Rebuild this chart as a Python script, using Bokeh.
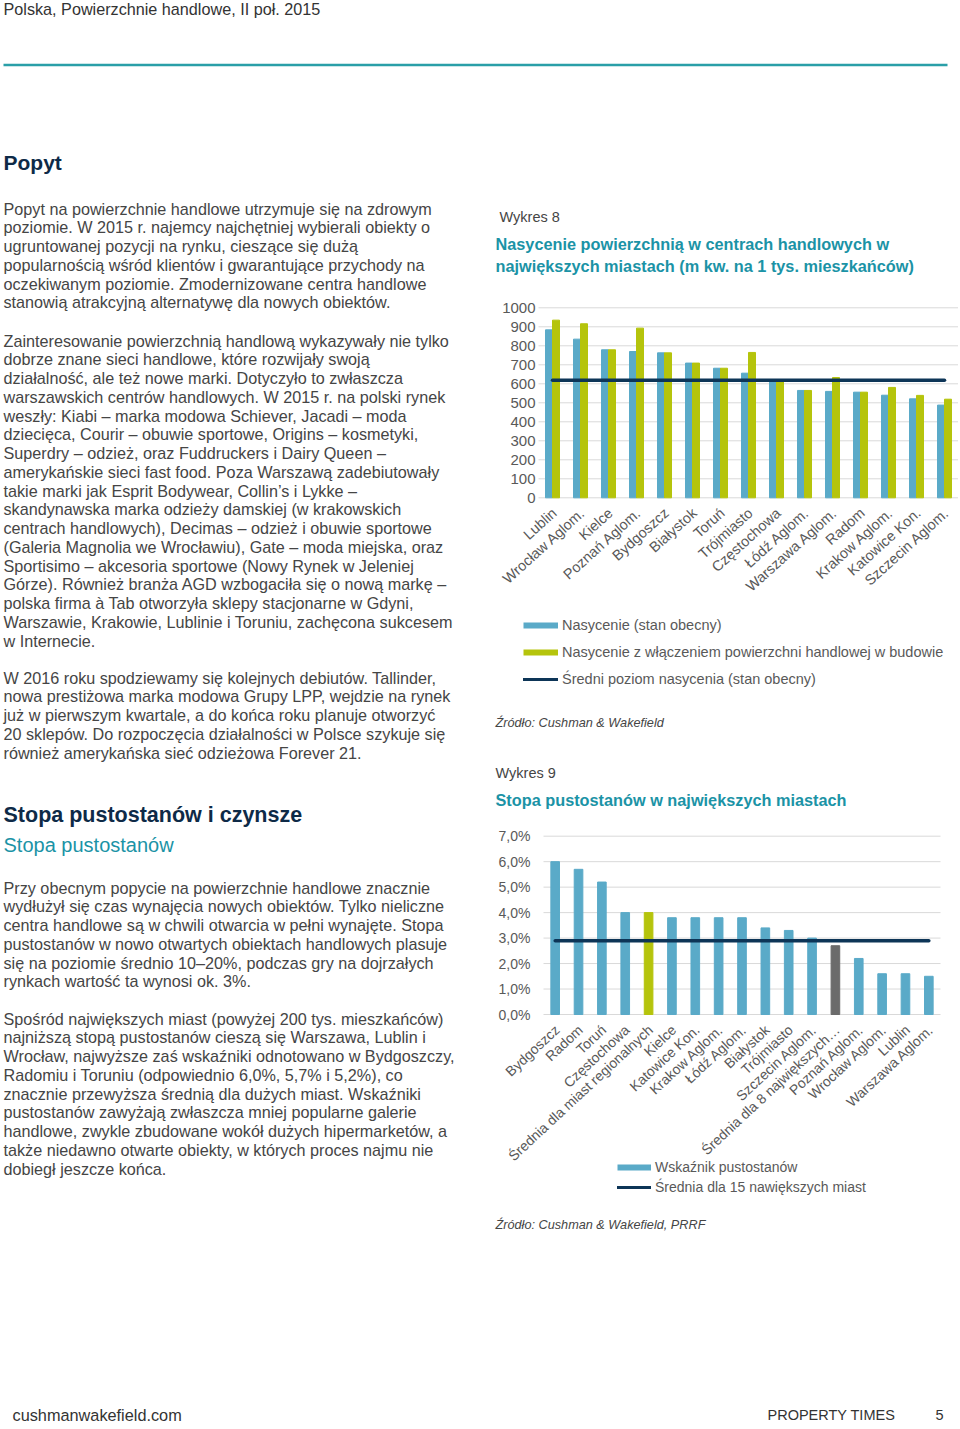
import math
import numpy as np
from bokeh.plotting import figure
from bokeh.models import (Range1d, FixedTicker, Legend, LegendItem, CustomJSTickFormatter,
                          LinearAxis)
from bokeh.core.properties import value
from bokeh.embed import file_html
from bokeh.resources import INLINE

FONT = "Liberation Sans"
BLUE = "#5aaac8"
GREEN = "#b5c40c"
GRAY_BAR = "#6b6b6b"
NAVY = "#0d3557"
TEAL = "#1b93a6"
HEAD = "#0e2a47"
BODY = "#454545"
AXIS_TXT = "#595959"
GRID = "#d9d9d9"

# ---------------- data: chart 1 (Wykres 8) ----------------
cities1 = ["Lublin", "Wrocław Aglom.", "Kielce", "Poznań Aglom.", "Bydgoszcz",
           "Białystok", "Toruń", "Trójmiasto", "Częstochowa", "Łódź Aglom.",
           "Warszawa Aglom.", "Radom", "Krakow Aglom.", "Katowice Kon.", "Szczecin Aglom."]
current1 = [884, 835, 779, 770, 763, 709, 682, 656, 621, 565, 560, 556, 540, 521, 488]
with_constr1 = [935, 916, 779, 893, 763, 709, 682, 765, 621, 565, 633, 556, 581, 539, 519]
avg1 = 619
yticks1 = [0, 100, 200, 300, 400, 500, 600, 700, 800, 900, 1000]
ylabels1 = ["0", "100", "200", "300", "400", "500", "600", "700", "800", "900", "1000"]
legend1 = ["Nasycenie (stan obecny)",
           "Nasycenie z włączeniem powierzchni handlowej w budowie",
           "Średni poziom nasycenia (stan obecny)"]

# ---------------- data: chart 2 (Wykres 9) ----------------
cities2 = ["Bydgoszcz", "Radom", "Toruń", "Częstochowa", "Średnia dla miast regionalnych",
           "Kielce", "Katowice Kon.", "Krakow Aglom.", "Łódź Aglom.", "Białystok",
           "Trójmiasto", "Szczecin Aglom.", "Średnia dla 8 największych…", "Poznań Aglom.",
           "Wrocław Aglom.", "Lublin", "Warszawa Aglom."]
vacancy2 = [6.0, 5.7, 5.2, 4.0, 4.0, 3.8, 3.8, 3.8, 3.8, 3.4, 3.3, 3.0, 2.7, 2.2, 1.6, 1.6, 1.5]
kind2 = ["city", "city", "city", "city", "regional", "city", "city", "city", "city", "city",
         "city", "city", "top8", "city", "city", "city", "city"]
avg2 = 2.9
yticks2 = [0, 1, 2, 3, 4, 5, 6, 7]
ylabels2 = ["0,0%", "1,0%", "2,0%", "3,0%", "4,0%", "5,0%", "6,0%", "7,0%"]
legend2 = ["Wskaźnik pustostanów", "Średnia dla 15 nawiększych miast"]

kind_color = {"city": BLUE, "regional": GREEN, "top8": GRAY_BAR}

# ---------------- page figure ----------------
W, H = 958, 1424
p = figure(width=W, height=H, x_range=Range1d(0, W), y_range=Range1d(H, 0),
           x_axis_type=None, y_axis_type=None, min_border=0,
           output_backend="svg", toolbar_location=None)
p.outline_line_color = None
p.background_fill_color = "white"


def label_formatter(names, positions):
    return CustomJSTickFormatter(args=dict(names=names, pos=positions), code="""
        let best = -1, d = 1e9;
        for (let i = 0; i < pos.length; i++) {
            const e = Math.abs(pos[i] - tick);
            if (e < d) { d = e; best = i; }
        }
        return (best >= 0 && d < 1e-6) ? names[best] : "";
    """)


def add_texts(items):
    for (x, y, txt, size, color, style) in items:
        p.text(x=[x], y=[y], text=[txt], text_font=value(FONT), text_font_size=size,
               text_color=color, text_font_style=style, text_baseline="middle",
               text_align="left")


def chart_ranges(name, px_left, px_per_cat, py_zero, px_per_unit):
    # category coordinate u -> page x = px_left + px_per_cat*u
    # value v -> page y = py_zero - px_per_unit*v
    p.extra_x_ranges[name + "x"] = Range1d(-px_left / px_per_cat, (W - px_left) / px_per_cat)
    p.extra_y_ranges[name + "y"] = Range1d((py_zero - H) / px_per_unit, py_zero / px_per_unit)


def style_axis(ax, size):
    ax.axis_line_color = None
    ax.major_tick_line_color = None
    ax.minor_tick_line_color = None
    ax.major_tick_out = 0
    ax.major_tick_in = 0
    ax.major_label_text_font = FONT
    ax.major_label_text_color = AXIS_TXT
    ax.major_label_text_font_size = size


def legend_key(color, width, kw, cap="butt"):
    # a key-only renderer: a single undefined point, so nothing is drawn in the plot
    return p.line(x=np.array([np.nan]), y=np.array([np.nan]), line_color=color,
                  line_width=width, line_cap=cap, **kw)


# ---------------- header / footer ----------------
add_texts([
    (3, 8, "Polska, Powierzchnie handlowe, II poł. 2015", "16.2px", "#333333", "normal"),
    (12, 1414, "cushmanwakefield.com", "16.3px", "#333333", "normal"),
    (767, 1414, "PROPERTY TIMES", "14.5px", "#333333", "normal"),
    (935, 1414, "5", "14.5px", "#333333", "normal"),
])
p.segment(x0=[3], y0=[64.5], x1=[947], y1=[64.5], line_color="#2a9fa8", line_width=2.5)

# ---------------- left column ----------------
LH = 18.75
paras = [
    (208, ["Popyt na powierzchnie handlowe utrzymuje się na zdrowym",
           "poziomie. W 2015 r. najemcy najchętniej wybierali obiekty o",
           "ugruntowanej pozycji na rynku, cieszące się dużą",
           "popularnością wśród klientów i gwarantujące przychody na",
           "oczekiwanym poziomie. Zmodernizowane centra handlowe",
           "stanowią atrakcyjną alternatywę dla nowych obiektów."]),
    (340, ["Zainteresowanie powierzchnią handlową wykazywały nie tylko",
           "dobrze znane sieci handlowe, które rozwijały swoją",
           "działalność, ale też nowe marki. Dotyczyło to zwłaszcza",
           "warszawskich centrów handlowych. W 2015 r. na polski rynek",
           "weszły: Kiabi – marka modowa Schiever, Jacadi – moda",
           "dziecięca, Courir – obuwie sportowe, Origins – kosmetyki,",
           "Superdry – odzież, oraz Fuddruckers i Dairy Queen –",
           "amerykańskie sieci fast food. Poza Warszawą zadebiutowały",
           "takie marki jak Esprit Bodywear, Collin’s i Lykke –",
           "skandynawska marka odzieży damskiej (w krakowskich",
           "centrach handlowych), Decimas – odzież i obuwie sportowe",
           "(Galeria Magnolia we Wrocławiu), Gate – moda miejska, oraz",
           "Sportisimo – akcesoria sportowe (Nowy Rynek w Jeleniej",
           "Górze). Również branża AGD wzbogaciła się o nową markę –",
           "polska firma à Tab otworzyła sklepy stacjonarne w Gdyni,",
           "Warszawie, Krakowie, Lublinie i Toruniu, zachęcona sukcesem",
           "w Internecie."]),
    (677, ["W 2016 roku spodziewamy się kolejnych debiutów. Tallinder,",
           "nowa prestiżowa marka modowa Grupy LPP, wejdzie na rynek",
           "już w pierwszym kwartale, a do końca roku planuje otworzyć",
           "20 sklepów. Do rozpoczęcia działalności w Polsce szykuje się",
           "również amerykańska sieć odzieżowa Forever 21."]),
    (887, ["Przy obecnym popycie na powierzchnie handlowe znacznie",
           "wydłużył się czas wynajęcia nowych obiektów. Tylko nieliczne",
           "centra handlowe są w chwili otwarcia w pełni wynajęte. Stopa",
           "pustostanów w nowo otwartych obiektach handlowych plasuje",
           "się na poziomie średnio 10–20%, podczas gry na dojrzałych",
           "rynkach wartość ta wynosi ok. 3%."]),
    (1018, ["Spośród największych miast (powyżej 200 tys. mieszkańców)",
            "najniższą stopą pustostanów cieszą się Warszawa, Lublin i",
            "Wrocław, najwyższe zaś wskaźniki odnotowano w Bydgoszczy,",
            "Radomiu i Toruniu (odpowiednio 6,0%, 5,7% i 5,2%), co",
            "znacznie przewyższa średnią dla dużych miast. Wskaźniki",
            "pustostanów zawyżają zwłaszcza mniej popularne galerie",
            "handlowe, zwykle zbudowane wokół dużych hipermarketów, a",
            "także niedawno otwarte obiekty, w których proces najmu nie",
            "dobiegł jeszcze końca."]),
]
left_items = [
    (3, 162, "Popyt", "21px", HEAD, "bold"),
    (3, 814, "Stopa pustostanów i czynsze", "21.5px", HEAD, "bold"),
    (3, 844, "Stopa pustostanów", "20px", TEAL, "normal"),
]
for y0, lines in paras:
    for i, ln in enumerate(lines):
        left_items.append((3, y0 + i * LH, ln, "16.2px", BODY, "normal"))
add_texts(left_items)

# ---------------- right column texts ----------------
add_texts([
    (499, 216, "Wykres 8", "14.5px", BODY, "normal"),
    (495, 243, "Nasycenie powierzchnią w centrach handlowych w", "16.3px", TEAL, "bold"),
    (495, 265, "największych miastach (m kw. na 1 tys. mieszkańców)", "16.3px", TEAL, "bold"),
    (495, 722, "Źródło: Cushman & Wakefield", "12.7px", BODY, "italic"),
    (495, 772, "Wykres 9", "14.5px", BODY, "normal"),
    (495, 799, "Stopa pustostanów w największych miastach", "16.3px", TEAL, "bold"),
    (495, 1224, "Źródło: Cushman & Wakefield, PRRF", "12.7px", BODY, "italic"),
])

# ---------------- chart 1 ----------------
cat_px1 = 28.0
chart_ranges("c1", 538.0, cat_px1, 497.3, 0.19)
n1 = len(cities1)
centers1 = [i + 0.5 for i in range(n1)]
lab_pos1 = [c + 2.0 / cat_px1 for c in centers1]
kw1 = dict(x_range_name="c1x", y_range_name="c1y")
p.segment(x0=[0] * len(yticks1), x1=[n1] * len(yticks1), y0=yticks1, y1=yticks1,
          line_color=GRID, line_width=1, **kw1)
p.vbar(x=[c - 0.125 for c in centers1], top=current1, width=0.25, color=BLUE, **kw1)
p.vbar(x=[c + 0.125 for c in centers1], top=with_constr1, width=0.25, color=GREEN, **kw1)
p.line(x=[centers1[0], centers1[-1]], y=[avg1, avg1], line_color=NAVY, line_width=3.5,
       line_cap="round", **kw1)

ya1 = LinearAxis(fixed_location=0, ticker=FixedTicker(ticks=yticks1),
                 formatter=label_formatter(ylabels1, yticks1), major_label_standoff=3, **kw1)
style_axis(ya1, "15px")
p.add_layout(ya1, "left")
xa1 = LinearAxis(fixed_location=0, ticker=FixedTicker(ticks=lab_pos1),
                 formatter=label_formatter(cities1, lab_pos1), major_label_standoff=13,
                 major_label_orientation=math.radians(42), **kw1)
style_axis(xa1, "14.5px")
p.add_layout(xa1, "below")

d1a = legend_key(BLUE, 6, kw1)
d1b = legend_key(GREEN, 6, kw1)
d1c = legend_key(NAVY, 3, kw1, "round")

# ---------------- chart 2 ----------------
n2 = len(cities2)
cat_px2 = (940.0 - 543.0) / n2
chart_ranges("c2", 543.0, cat_px2, 1014.0, (1014.0 - 835.7) / 7.0)
centers2 = [i + 0.5 for i in range(n2)]
lab_pos2 = [c + 2.0 / cat_px2 for c in centers2]
kw2 = dict(x_range_name="c2x", y_range_name="c2y")
p.segment(x0=[0] * len(yticks2), x1=[n2] * len(yticks2), y0=yticks2, y1=yticks2,
          line_color=GRID, line_width=1, **kw2)
p.vbar(x=centers2, top=vacancy2, width=0.37, color=[kind_color[k] for k in kind2], **kw2)
p.line(x=[centers2[0], centers2[-1]], y=[avg2, avg2], line_color=NAVY, line_width=3.5,
       line_cap="round", **kw2)

ya2 = LinearAxis(fixed_location=0, ticker=FixedTicker(ticks=yticks2),
                 formatter=label_formatter(ylabels2, yticks2), major_label_standoff=13, **kw2)
style_axis(ya2, "14px")
p.add_layout(ya2, "left")
xa2 = LinearAxis(fixed_location=0, ticker=FixedTicker(ticks=lab_pos2),
                 formatter=label_formatter(cities2, lab_pos2), major_label_standoff=13,
                 major_label_orientation=math.radians(43), **kw2)
style_axis(xa2, "14px")
p.add_layout(xa2, "below")

d2a = legend_key(BLUE, 6, kw2)
d2b = legend_key(NAVY, 3, kw2, "round")

# ---------------- legends ----------------
lg1 = Legend(items=[LegendItem(label=legend1[0], renderers=[d1a]),
                    LegendItem(label=legend1[1], renderers=[d1b]),
                    LegendItem(label=legend1[2], renderers=[d1c])],
             location=(523, H - 689), orientation="vertical",
             glyph_width=35, glyph_height=20, label_height=20, label_standoff=4,
             spacing=7, padding=0, margin=0, border_line_color=None,
             background_fill_alpha=0, label_text_font=FONT,
             label_text_font_size="14.5px", label_text_color=AXIS_TXT)
p.add_layout(lg1)
lg2 = Legend(items=[LegendItem(label=legend2[0], renderers=[d2a]),
                    LegendItem(label=legend2[1], renderers=[d2b])],
             location=(617, H - 1197), orientation="vertical",
             glyph_width=34, glyph_height=20, label_height=20, label_standoff=4,
             spacing=0, padding=0, margin=0, border_line_color=None,
             background_fill_alpha=0, label_text_font=FONT,
             label_text_font_size="14px", label_text_color=AXIS_TXT)
p.add_layout(lg2)

open("out.html", "w").write(file_html(p, INLINE))
